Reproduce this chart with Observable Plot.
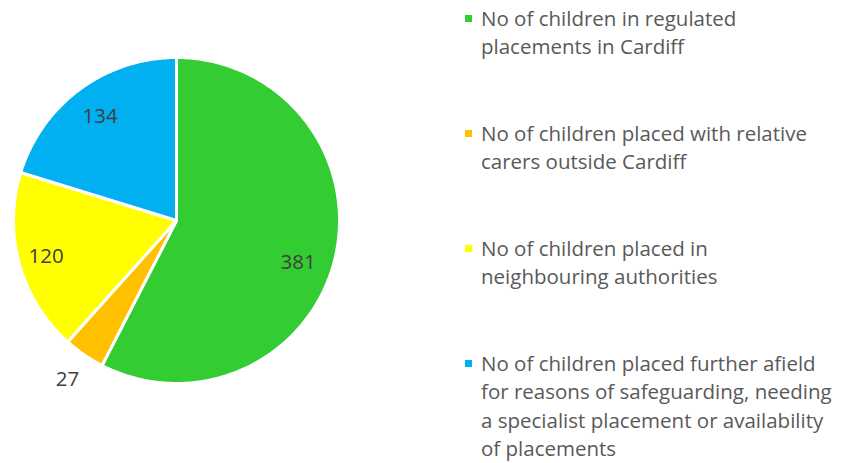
<!DOCTYPE html>
<html>
<head>
<meta charset="utf-8">
<script src="https://cdn.jsdelivr.net/npm/d3@7"></script>
<script src="https://cdn.jsdelivr.net/npm/@observablehq/plot@0.6"></script>
<style>
  body { margin: 0; background: #fff; }
  #wrap { position: relative; width: 843px; height: 463px; font-family: "Open Sans", Lato, sans-serif; }
  #legend { position: absolute; left: 0; top: 0; }
  .item { position: absolute; left: 465px; display: flex; align-items: flex-start; }
  .swatch { width: 7px; height: 7px; margin-top: 11px; margin-right: 9px; flex: none; }
  .label { font-size: 20.5px; line-height: 28.3px; color: #595959; white-space: pre; }
</style>
</head>
<body>
<div id="wrap"><div id="legend"></div></div>
<script>
const categories = [
  "No of children in regulated\nplacements in Cardiff",
  "No of children placed with relative\ncarers outside Cardiff",
  "No of children placed in\nneighbouring authorities",
  "No of children placed further afield\nfor reasons of safeguarding, needing\na specialist placement or availability\nof placements"
];
const values = [381, 27, 120, 134];
const colors = ["#33CC33", "#FFC000", "#FFFF00", "#00B0F0"];
const labelRadius = [0.79, 1.18, 0.83, 0.79];
const labelAngleShift = [5.5, 0, 0, 0]; // degrees

const pie = d3.pie().sort(null).value(d => d)(values);

// polygon points per slice (angle measured clockwise from top)
const pts = [];
pie.forEach((s, i) => {
  pts.push({k: i, x: 0, y: 0});
  const n = Math.max(2, Math.ceil((s.endAngle - s.startAngle) / (Math.PI / 180)));
  for (let j = 0; j <= n; j++) {
    const a = s.startAngle + (s.endAngle - s.startAngle) * j / n;
    pts.push({k: i, x: Math.sin(a), y: Math.cos(a)});
  }
  pts.push({k: i, x: 0, y: 0});
});

const labels = pie.map((s, i) => {
  const a = (s.startAngle + s.endAngle) / 2 + labelAngleShift[i] * Math.PI / 180;
  return {x: labelRadius[i] * Math.sin(a), y: labelRadius[i] * Math.cos(a), v: values[i]};
});

const chart = Plot.plot({
  width: 843,
  height: 463,
  marginLeft: 13,
  marginRight: 504,
  marginTop: 57,
  marginBottom: 80,
  x: {domain: [-1, 1], axis: null},
  y: {domain: [-1, 1], axis: null},
  color: {domain: d3.range(values.length), range: colors},
  style: {fontFamily: "'Open Sans', Lato, sans-serif", background: "transparent"},
  marks: [
    Plot.line(pts, {x: "x", y: "y", z: "k", fill: d => d.k, stroke: "white", strokeWidth: 3, strokeLinejoin: "round"}),
    Plot.text(labels, {x: "x", y: "y", text: d => String(d.v), fill: "#404040", fontSize: 20.5})
  ]
});
document.getElementById("wrap").prepend(chart);
chart.style.position = "absolute";
chart.style.left = "0";
chart.style.top = "0";

const legend = document.getElementById("legend");
categories.forEach((c, i) => {
  const it = document.createElement("div");
  it.className = "item";
  it.style.top = (4 + i * 115) + "px";
  const sw = document.createElement("div");
  sw.className = "swatch";
  sw.style.background = colors[i];
  const lb = document.createElement("div");
  lb.className = "label";
  lb.textContent = c;
  it.append(sw, lb);
  legend.append(it);
});
</script>
</body>
</html>
